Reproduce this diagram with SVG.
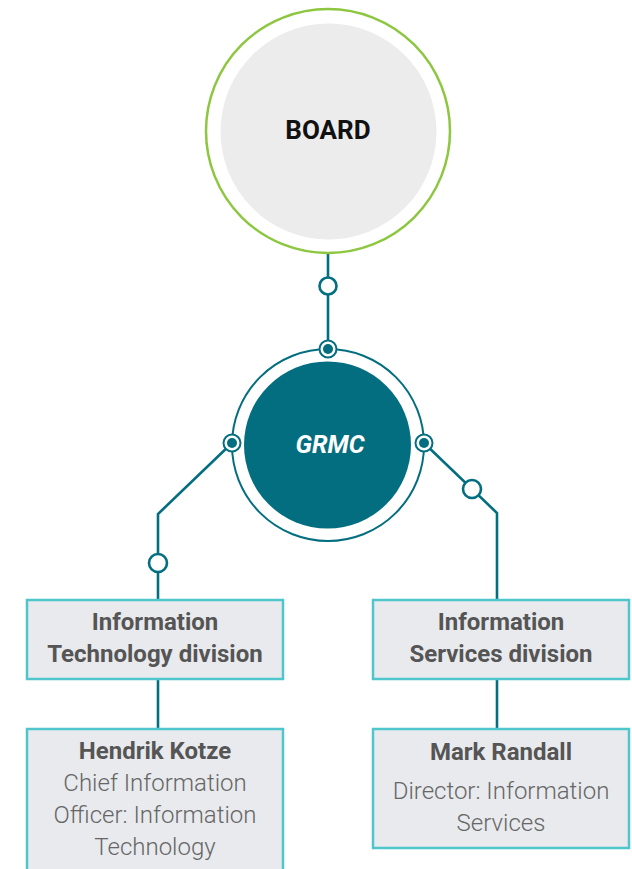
<svg xmlns="http://www.w3.org/2000/svg" width="632" height="869" viewBox="0 0 632 869">
<style>
.ln{fill:none;stroke:#036e80;stroke-width:2.6}
.oc{fill:#fff;stroke:#036e80;stroke-width:2.6}
.nd{fill:#fff;stroke:#036e80;stroke-width:2}
.dot{fill:#036e80}
.box{fill:#e8eaed;stroke:#4fc5cc;stroke-width:2.5}
.t{font-family:Roboto,"Liberation Sans",sans-serif;text-anchor:middle}
.b{font-weight:700;font-size:24px;fill:#555}
.l{font-weight:300;font-size:24px;fill:#666}
</style>
<rect width="632" height="869" fill="#fff"/>
<g id="connectors">
<path class="ln" d="M328 254V349"/>
<circle class="oc" cx="328" cy="286" r="8.5"/>
<path class="ln" d="M232 443L158 514V599"/>
<circle class="oc" cx="158" cy="563" r="9"/>
<path class="ln" d="M424 443L497 513V599"/>
<circle class="oc" cx="472" cy="489" r="9"/>
<path class="ln" d="M158 679V728"/>
<path class="ln" d="M497 679V728"/>
</g>
<g id="board">
<circle cx="328" cy="131" r="122" fill="#fff" stroke="#8dc63f" stroke-width="2.5"/>
<circle cx="328.5" cy="131.5" r="108" fill="#ececec"/>
<text class="t" x="328" y="138.5" font-size="26" font-weight="700" fill="#111">BOARD</text>
</g>
<g id="grmc">
<circle cx="328" cy="445" r="96" fill="#fff" stroke="#036e80" stroke-width="2"/>
<circle cx="327.5" cy="445" r="83.5" fill="#036e80"/>
<text class="t" x="330" y="453" font-size="25" font-weight="700" font-style="italic" fill="#fff">GRMC</text>
<circle class="nd" cx="328" cy="349" r="8.5"/><circle class="dot" cx="328" cy="349" r="5"/>
<circle class="nd" cx="232" cy="443" r="8.5"/><circle class="dot" cx="232" cy="443" r="5"/>
<circle class="nd" cx="424" cy="443" r="8.5"/><circle class="dot" cx="424" cy="443" r="5"/>
</g>
<g id="it-division">
<rect class="box" x="27" y="600" width="256" height="79"/>
<text class="t b" x="155" y="630">Information</text>
<text class="t b" x="155" y="662">Technology division</text>
</g>
<g id="is-division">
<rect class="box" x="373" y="600" width="256" height="79"/>
<text class="t b" x="501" y="630">Information</text>
<text class="t b" x="501" y="662">Services division</text>
</g>
<g id="hendrik">
<rect class="box" x="27" y="729" width="256" height="150"/>
<text class="t b" x="155" y="759">Hendrik Kotze</text>
<text class="t l" x="155" y="791">Chief Information</text>
<text class="t l" x="155" y="823">Officer: Information</text>
<text class="t l" x="155" y="855">Technology</text>
</g>
<g id="mark">
<rect class="box" x="373" y="729" width="256" height="119"/>
<text class="t b" x="501" y="760">Mark Randall</text>
<text class="t l" x="501" y="798.5">Director: Information</text>
<text class="t l" x="501" y="831">Services</text>
</g>
</svg>
